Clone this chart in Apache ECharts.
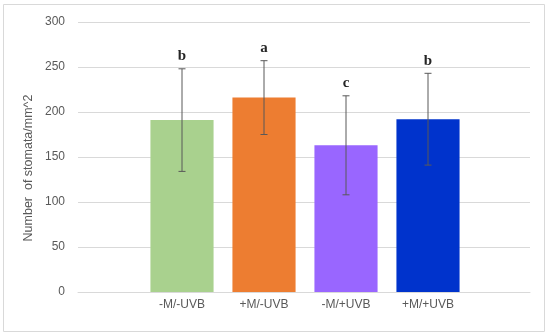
<!DOCTYPE html>
<html><head><meta charset="utf-8">
<script src="https://cdn.jsdelivr.net/npm/echarts@6/dist/echarts.min.js"></script>
<style>html,body{margin:0;padding:0;background:#fff}#c{width:550px;height:336px}</style>
</head><body><div id="c"></div>
<script>
const categories = ['-M/-UVB', '+M/-UVB', '-M/+UVB', '+M/+UVB'];
const means = [191, 216, 163, 192];
const errors = [57, 41, 55, 51];
const letters = ['b', 'a', 'c', 'b'];
const colors = ['#A9D18E', '#ED7D31', '#9966FF', '#0033CC'];
const yTicks = { min: 0, max: 300, interval: 50 };
const yTitle = 'Number  of stomata/mm^2';

const chart = echarts.init(document.getElementById('c'), null, { renderer: 'canvas' });
const font = '"Liberation Sans", Arial, sans-serif';
chart.setOption({
  animation: false,
  graphic: [
    { type: 'rect', shape: { x: 3.5, y: 4.5, width: 541, height: 327 }, style: { fill: 'none', stroke: '#D9D9D9', lineWidth: 1 } },
    { type: 'text', x: 29, y: 168, rotation: Math.PI / 2, style: { text: yTitle, align: 'center', verticalAlign: 'middle',
      fill: '#595959', font: '12.5px "Liberation Sans", Arial, sans-serif' } }
  ],
  grid: [
    { left: 78, right: 20, top: 22, bottom: 44 },
    { left: 141, right: 81, top: 22, bottom: 44 }
  ],
  xAxis: [
    { gridIndex: 0, type: 'category', data: [''], axisLine: { lineStyle: { color: '#D9D9D9' } }, axisTick: { show: false }, axisLabel: { show: false } },
    { gridIndex: 1, type: 'category', data: categories, axisLine: { show: false }, axisTick: { show: false },
      axisLabel: { color: '#595959', fontSize: 12, fontFamily: font, margin: 7 } }
  ],
  yAxis: [
    { gridIndex: 0, type: 'value', min: yTicks.min, max: yTicks.max, interval: yTicks.interval,
      axisLine: { show: false }, axisTick: { show: false },
      axisLabel: { color: '#595959', fontSize: 12, fontFamily: font, margin: 13 },
      splitLine: { lineStyle: { color: '#D9D9D9' } } },
    { gridIndex: 1, type: 'value', min: yTicks.min, max: yTicks.max, interval: yTicks.interval, show: false }
  ],
  series: [
    { type: 'bar', xAxisIndex: 1, yAxisIndex: 1, barCategoryGap: '23%',
      data: means.map((v, i) => ({ value: v, itemStyle: { color: colors[i] } })) },
    { type: 'custom', xAxisIndex: 1, yAxisIndex: 1, z: 5,
      data: means.map((v, i) => [i, v - errors[i], v + errors[i]]),
      renderItem: function (params, api) {
        const lo = api.coord([api.value(0), api.value(1)]);
        const hi = api.coord([api.value(0), api.value(2)]);
        const x = lo[0], w = 3.5;
        const st = { stroke: '#595959', lineWidth: 1 };
        return { type: 'group', children: [
          { type: 'line', shape: { x1: x, y1: lo[1], x2: x, y2: hi[1] }, style: st },
          { type: 'line', shape: { x1: x - w, y1: lo[1], x2: x + w, y2: lo[1] }, style: st },
          { type: 'line', shape: { x1: x - w, y1: hi[1], x2: x + w, y2: hi[1] }, style: st },
          { type: 'text', style: { text: letters[params.dataIndex], x: x, y: hi[1] - 5, align: 'center', verticalAlign: 'bottom',
            fill: '#262626', font: 'bold 15px "Liberation Serif", "Times New Roman", serif' } }
        ] };
      } }
  ]
});
</script></body></html>
